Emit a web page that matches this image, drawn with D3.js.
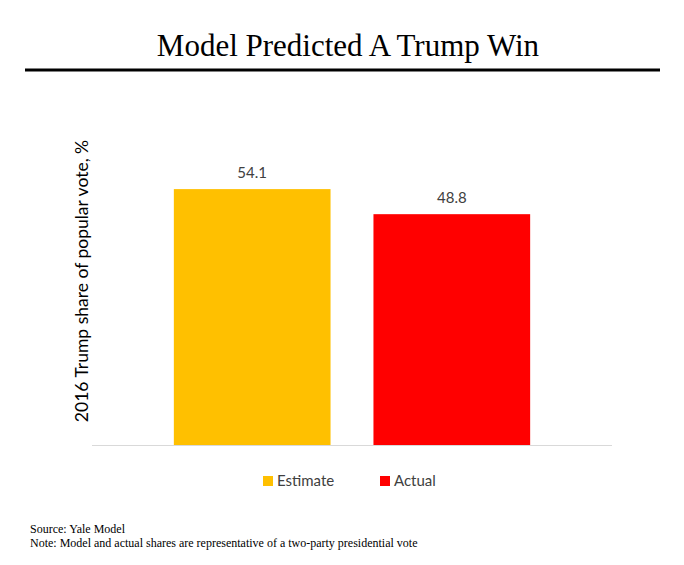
<!DOCTYPE html>
<html><head><meta charset="utf-8">
<script src="https://cdn.jsdelivr.net/npm/d3@7"></script>
<style>body{margin:0;background:#fff;} svg{display:block;}</style>
</head><body>
<script>
const categories = ["Estimate", "Actual"];
const values = [54.1, 48.8];
const colors = ["#FFC000", "#FF0000"];
const yDomain = [0, 60];

const W = 684, H = 565;
const svg = d3.select("body").append("svg").attr("width", W).attr("height", H);
svg.append("rect").attr("width", W).attr("height", H).attr("fill", "#fff");

svg.append("text").attr("x", 348).attr("y", 56).attr("text-anchor", "middle")
  .attr("font-family", "Liberation Serif, Times New Roman, serif").attr("font-size", 31)
  .attr("fill", "#000").text("Model Predicted A Trump Win");
svg.append("line").attr("x1", 25).attr("x2", 660).attr("y1", 70).attr("y2", 70)
  .attr("stroke", "#000").attr("stroke-width", 3);

const plotL = 92, plotR = 612, base = 445;
const x = d3.scaleBand().domain(categories).range([plotL, plotR]).paddingInner(0.215).paddingOuter(0.41);
const y = d3.scaleLinear().domain(yDomain).range([base, base - 4.73 * 60]);

const data = categories.map((c, i) => ({c, v: values[i], col: colors[i]}));
svg.selectAll("rect.bar").data(data).enter().append("rect").attr("class", "bar")
  .attr("x", d => x(d.c)).attr("width", x.bandwidth())
  .attr("y", d => y(d.v)).attr("height", d => y(0) - y(d.v)).attr("fill", d => d.col);

svg.selectAll("text.val").data(data).enter().append("text").attr("class", "val")
  .attr("x", d => x(d.c) + x.bandwidth() / 2).attr("y", d => y(d.v) - 11)
  .attr("text-anchor", "middle").attr("font-family", "Lato, Open Sans, sans-serif")
  .attr("font-size", 15).attr("fill", "#404040").text(d => d.v.toFixed(1));

svg.append("line").attr("x1", plotL).attr("x2", plotR).attr("y1", base + 0.5).attr("y2", base + 0.5)
  .attr("stroke", "#d9d9d9").attr("stroke-width", 1);

svg.append("text").attr("transform", `translate(88,${281}) rotate(-90)`).attr("text-anchor", "middle")
  .attr("font-family", "Lato, Open Sans, sans-serif").attr("font-size", 17.5).attr("fill", "#000")
  .text("2016 Trump share of popular vote, %");

// legend
const legX = [263, 380];
const leg = svg.selectAll("g.leg").data(data).enter().append("g").attr("class", "leg")
  .attr("transform", (d, i) => `translate(${legX[i]},481)`);
leg.append("rect").attr("x", 0).attr("y", -5).attr("width", 10).attr("height", 10).attr("fill", d => d.col);
leg.append("text").attr("x", 14).attr("y", 5).attr("font-family", "Lato, Open Sans, sans-serif")
  .attr("font-size", 15).attr("fill", "#404040").text(d => d.c);

svg.append("text").attr("x", 30).attr("y", 533).attr("font-family", "Liberation Serif, Times New Roman, serif")
  .attr("font-size", 12).attr("fill", "#000").text("Source: Yale Model");
svg.append("text").attr("x", 30).attr("y", 547).attr("font-family", "Liberation Serif, Times New Roman, serif")
  .attr("font-size", 12).attr("fill", "#000").text("Note: Model and actual shares are representative of a two-party presidential vote");
</script>
</body></html>
